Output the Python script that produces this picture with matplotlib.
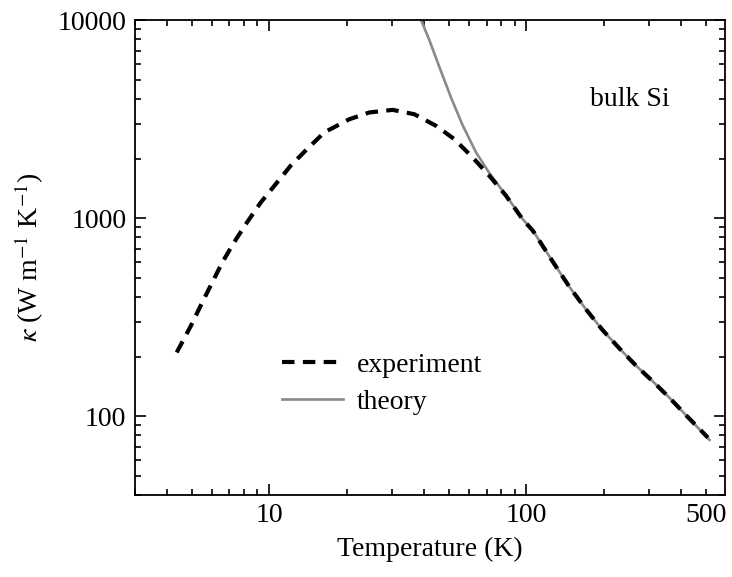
import matplotlib
matplotlib.use("Agg")
import matplotlib.pyplot as plt
from matplotlib.ticker import FixedLocator, LogLocator, NullFormatter, FuncFormatter

plt.rcParams['font.family'] = ['Liberation Serif', 'DejaVu Serif']
plt.rcParams['mathtext.fontset'] = 'stix'

# experiment (dashed)
exp_T = [4.37, 4.96, 5.50, 6.01, 6.58, 7.31, 8.21, 9.29, 10.6, 12.1, 14.0, 16.4,
         20.5, 24.5, 30.2, 36.7, 44.6, 52.5, 61.8, 71.8, 83.3, 96.8, 106, 127,
         147, 171, 198, 230, 267, 310, 360, 418, 508]
exp_k = [210, 286, 377, 475, 600, 757, 955, 1205, 1486, 1837, 2228, 2716,
         3162, 3420, 3525, 3350, 2925, 2506, 2027, 1637, 1300, 985, 865, 600,
         450, 345, 272, 220, 180, 150, 124, 101, 78]

# theory (grey solid)
th_T = [38.5, 42.0, 46.0, 51.0, 56.5, 63.7, 71.8, 83.3, 96.8, 106, 127, 147,
        171, 198, 230, 267, 310, 360, 418, 515]
th_k = [10400, 7900, 5750, 4050, 2950, 2150, 1690, 1305, 988, 866, 600, 450,
        345, 272, 220, 180, 150, 124, 101, 76]

fig = plt.figure(figsize=(7.32, 5.77), dpi=100)
ax = fig.add_axes([0.184, 0.142, 0.806, 0.823])

ax.plot(th_T, th_k, color='#8a8a8a', lw=1.9, label='theory', zorder=2)
ax.plot(exp_T, exp_k, color='black', lw=3, dashes=(3, 2), dash_capstyle='butt',
        label='experiment', zorder=3)

ax.set_xscale('log')
ax.set_yscale('log')
ax.set_xlim(3.0, 590)
ax.set_ylim(40, 10000)

ax.xaxis.set_major_locator(FixedLocator([10, 100]))
ax.xaxis.set_major_formatter(FuncFormatter(lambda v, p: '%d' % round(v)))
ax.xaxis.set_minor_locator(LogLocator(base=10, subs=range(2, 10), numticks=20))
ax.xaxis.set_minor_formatter(FuncFormatter(lambda v, p: '500' if abs(v - 500) < 1 else ''))

ax.yaxis.set_major_locator(FixedLocator([100, 1000, 10000]))
ax.yaxis.set_major_formatter(FuncFormatter(lambda v, p: '%d' % round(v)))
ax.yaxis.set_minor_locator(LogLocator(base=10, subs=range(2, 10), numticks=20))
ax.yaxis.set_minor_formatter(NullFormatter())

ax.tick_params(which='both', direction='in', top=True, right=True, labelsize=20, width=1.2)
ax.tick_params(which='major', length=8, pad=6)
ax.tick_params(which='minor', length=4, pad=6)
for s in ax.spines.values():
    s.set_linewidth(1.3)

ax.set_xlabel('Temperature (K)', fontsize=20, labelpad=6)
ax.set_ylabel(r'$\kappa$ (W m$^{-1}$ K$^{-1}$)', fontsize=20, labelpad=8)

ax.text(0.771, 0.832, 'bulk Si', transform=ax.transAxes, fontsize=20,
        ha='left', va='center')

h, l = ax.get_legend_handles_labels()
ax.legend(h[::-1], l[::-1], loc='center left', bbox_to_anchor=(0.249, 0.235),
          frameon=False, fontsize=20, handlelength=2.2, handletextpad=0.5,
          labelspacing=0.42, borderpad=0, borderaxespad=0)

fig.savefig('out.png', dpi=100)
